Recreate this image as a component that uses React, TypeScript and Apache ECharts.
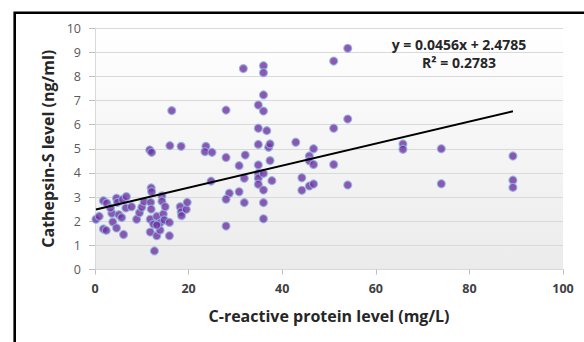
import React, { useEffect, useRef } from "react";
import * as echarts from "echarts";

// C-reactive protein level (mg/L)
const crpLevels = [
  0.2, 0.9, 1.8, 2.5, 1.8, 2.4, 3.6, 3.8, 3.3, 4.6, 4.8, 4.6, 5.1, 5.7, 5.9, 6.1, 6.7, 6.6, 7.8, 8.9,
  9.5, 10.0, 10.5, 11.8, 12.0, 12.1, 11.9, 12.0, 11.8, 12.5, 12.7, 13.2, 13.2, 13.9, 13.9, 14.3, 14.3, 14.6, 14.8, 15.0,
  15.9, 15.9, 18.2, 18.4, 18.5, 19.5, 19.7, 11.7, 12.1, 16.4, 16.0, 18.4, 13.2,
  23.7, 23.5, 25.0, 24.8, 28.0, 28.0, 28.7, 28.0, 28.0, 30.8, 30.8, 31.7, 32.1, 31.9, 31.9,
  34.9, 34.9, 34.9, 34.9, 34.9, 34.9, 34.9, 36.0, 36.0, 36.0, 36.0, 36.0, 36.0, 36.0, 36.0,
  36.7, 37.1, 37.4, 37.4, 37.8, 42.9, 44.2, 44.2, 45.8, 45.8, 45.8, 46.7, 46.7, 46.7,
  51.0, 51.0, 51.0, 54.0, 54.0, 54.0,
  65.8, 65.8, 74.0, 74.0, 89.3, 89.3, 89.3,
];

// Cathepsin-S level (ng/ml)
const cathepsinLevels = [
  2.08, 2.2, 2.85, 2.75, 1.68, 1.62, 2.33, 1.97, 2.55, 2.95, 2.78, 1.72, 2.27, 2.15, 2.9, 1.45, 3.02, 2.55, 2.6, 2.08,
  2.35, 2.58, 2.81, 1.55, 3.38, 3.22, 2.78, 2.5, 2.08, 1.88, 0.77, 2.2, 1.4, 1.63, 1.93, 3.05, 2.83, 2.3, 2.05, 2.6,
  1.95, 1.4, 2.6, 2.38, 2.23, 2.49, 2.78, 4.95, 4.85, 6.58, 5.13, 5.1, 1.84,
  5.1, 4.88, 4.85, 3.66, 6.6, 4.64, 3.16, 2.91, 1.8, 4.3, 3.22, 8.32, 4.74, 3.78, 2.77,
  6.81, 5.85, 5.18, 4.33, 3.98, 3.78, 3.53, 8.44, 8.15, 7.23, 6.56, 3.98, 3.29, 2.77, 2.1,
  5.75, 5.06, 5.2, 4.51, 3.68, 5.27, 3.8, 3.28, 4.7, 4.5, 3.46, 5.0, 4.35, 3.54,
  8.63, 5.85, 4.35, 9.16, 6.23, 3.5,
  5.2, 4.98, 5.0, 3.55, 4.7, 3.7, 3.4,
];

// Linear trendline (as reported on the chart)
const trendSlope = 0.0456;
const trendIntercept = 2.4785;
const rSquared = 0.2783;

const xTicks = { min: 0, max: 100, interval: 20 };
const yTicks = { min: 0, max: 10, interval: 1 };

const FONT = "Open Sans";

export default function App() {
  const ref = useRef<HTMLDivElement>(null);

  useEffect(() => {
    if (!ref.current) return;
    const chart = echarts.init(ref.current, null, { renderer: "svg" });

    const points = crpLevels.map((x, i) => [x, cathepsinLevels[i]]);
    const xMin = Math.min(...crpLevels);
    const xMax = Math.max(...crpLevels);
    const trend = [
      [xMin, trendIntercept + trendSlope * xMin],
      [xMax, trendIntercept + trendSlope * xMax],
    ];

    chart.setOption({
      animation: false,
      backgroundColor: "#ffffff",
      textStyle: { fontFamily: FONT },
      grid: {
        left: 95,
        right: 21,
        top: 28,
        bottom: 72.5,
        show: true,
        borderWidth: 0,
        backgroundColor: new echarts.graphic.LinearGradient(0, 0, 0, 1, [
          { offset: 0, color: "#ffffff" },
          { offset: 1, color: "#ebebeb" },
        ]),
      },
      xAxis: {
        type: "value",
        min: xTicks.min,
        max: xTicks.max,
        interval: xTicks.interval,
        name: "C-reactive protein level (mg/L)",
        nameLocation: "middle",
        nameGap: 38.5,
        nameTextStyle: { fontFamily: FONT, fontSize: 16, fontWeight: "bold", color: "#262626" },
        axisLine: { show: true, lineStyle: { color: "#d9d9d9", width: 1 } },
        axisTick: { show: true, length: 5, lineStyle: { color: "#bfbfbf" } },
        axisLabel: { margin: 12, fontFamily: FONT, fontSize: 12.5, fontWeight: "bold", color: "#404040" },
        splitLine: { show: false },
      },
      yAxis: {
        type: "value",
        min: yTicks.min,
        max: yTicks.max,
        interval: yTicks.interval,
        name: "Cathepsin-S level (ng/ml)",
        nameLocation: "middle",
        nameGap: 38.5,
        nameRotate: 90,
        nameTextStyle: { fontFamily: FONT, fontSize: 16, fontWeight: "bold", color: "#262626" },
        axisLine: { show: true, lineStyle: { color: "#d9d9d9", width: 1 } },
        axisTick: { show: true, length: 6, lineStyle: { color: "#bfbfbf" } },
        axisLabel: { margin: 14, fontFamily: FONT, fontSize: 12.5, color: "#595959" },
        splitLine: { show: true, lineStyle: { color: "#d9d9d9", width: 1 } },
      },
      series: [
        {
          type: "scatter",
          data: points,
          symbol: "circle",
          symbolSize: 8,
          itemStyle: { color: "#7030a0", borderColor: "#8db3e2", borderWidth: 1.2 },
          z: 2,
        },
        {
          type: "line",
          data: trend,
          symbol: "none",
          lineStyle: { color: "#000000", width: 2 },
          z: 3,
        },
      ],
      graphic: [
        {
          type: "rect",
          shape: { x: 14.7, y: 12.8, width: 700, height: 500 },
          style: { fill: "none", stroke: "#000000", lineWidth: 2.6 },
          z: 10,
        },
        {
          type: "text",
          x: 459,
          y: 44,
          style: {
            text: `y = ${trendSlope}x + ${trendIntercept}`,
            fontFamily: FONT,
            fontSize: 14,
            fontWeight: "bold",
            fill: "#262626",
            align: "center",
            verticalAlign: "middle",
          },
          z: 10,
        },
        {
          type: "text",
          x: 459,
          y: 62,
          style: {
            text: `R² = ${rSquared}`,
            fontFamily: FONT,
            fontSize: 14,
            fontWeight: "bold",
            fill: "#262626",
            align: "center",
            verticalAlign: "middle",
          },
          z: 10,
        },
      ],
    });

    return () => chart.dispose();
  }, []);

  return (
    <div
      ref={ref}
      style={{ position: "fixed", left: 0, top: 0, width: 584, height: 342, background: "#fff" }}
    />
  );
}
